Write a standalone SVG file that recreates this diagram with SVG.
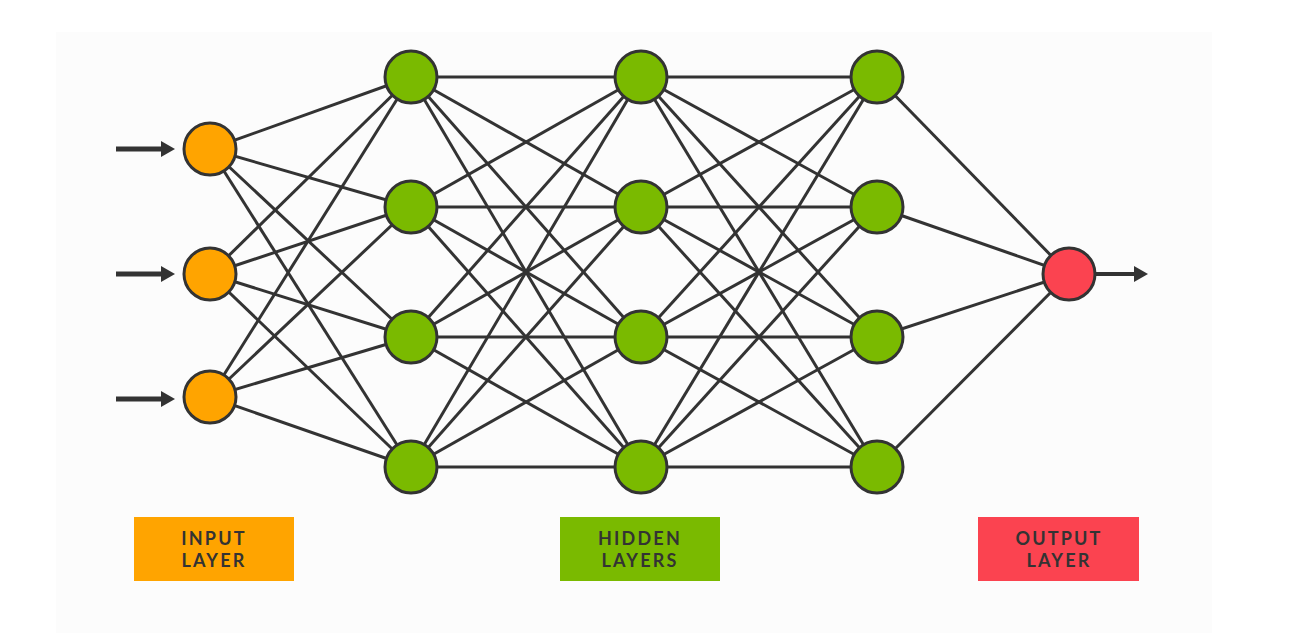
<svg xmlns="http://www.w3.org/2000/svg" width="1302" height="633" viewBox="0 0 1302 633">
<defs>
<style>
.e{stroke:#333;stroke-width:3;fill:none}
.n{stroke:#333;stroke-width:3}
.in{fill:#ffa400}
.hd{fill:#7aba00}
.out{fill:#fb4350}
.lbl{font-family:"Lato","Liberation Sans",sans-serif;font-weight:700;font-size:18px;fill:#333;letter-spacing:2.2px;text-anchor:middle}
.arr{stroke:#333;stroke-width:5}
</style>
<polygon id="head" points="0,-8 14,0 0,8" fill="#333"/>
</defs>
<rect width="1302" height="633" fill="#ffffff"/>
<rect x="56" y="32" width="1156" height="601" fill="#fcfcfc"/>
<g id="connectors">
<g class="e">
<line x1="210" y1="149" x2="411" y2="77"/><line x1="210" y1="149" x2="411" y2="207"/><line x1="210" y1="149" x2="411" y2="337"/><line x1="210" y1="149" x2="411" y2="467"/>
<line x1="210" y1="274" x2="411" y2="77"/><line x1="210" y1="274" x2="411" y2="207"/><line x1="210" y1="274" x2="411" y2="337"/><line x1="210" y1="274" x2="411" y2="467"/>
<line x1="210" y1="397" x2="411" y2="77"/><line x1="210" y1="397" x2="411" y2="207"/><line x1="210" y1="397" x2="411" y2="337"/><line x1="210" y1="397" x2="411" y2="467"/>
<line x1="411" y1="77" x2="641" y2="77"/><line x1="411" y1="77" x2="641" y2="207"/><line x1="411" y1="77" x2="641" y2="337"/><line x1="411" y1="77" x2="641" y2="467"/>
<line x1="411" y1="207" x2="641" y2="77"/><line x1="411" y1="207" x2="641" y2="207"/><line x1="411" y1="207" x2="641" y2="337"/><line x1="411" y1="207" x2="641" y2="467"/>
<line x1="411" y1="337" x2="641" y2="77"/><line x1="411" y1="337" x2="641" y2="207"/><line x1="411" y1="337" x2="641" y2="337"/><line x1="411" y1="337" x2="641" y2="467"/>
<line x1="411" y1="467" x2="641" y2="77"/><line x1="411" y1="467" x2="641" y2="207"/><line x1="411" y1="467" x2="641" y2="337"/><line x1="411" y1="467" x2="641" y2="467"/>
<line x1="641" y1="77" x2="877" y2="77"/><line x1="641" y1="77" x2="877" y2="207"/><line x1="641" y1="77" x2="877" y2="337"/><line x1="641" y1="77" x2="877" y2="467"/>
<line x1="641" y1="207" x2="877" y2="77"/><line x1="641" y1="207" x2="877" y2="207"/><line x1="641" y1="207" x2="877" y2="337"/><line x1="641" y1="207" x2="877" y2="467"/>
<line x1="641" y1="337" x2="877" y2="77"/><line x1="641" y1="337" x2="877" y2="207"/><line x1="641" y1="337" x2="877" y2="337"/><line x1="641" y1="337" x2="877" y2="467"/>
<line x1="641" y1="467" x2="877" y2="77"/><line x1="641" y1="467" x2="877" y2="207"/><line x1="641" y1="467" x2="877" y2="337"/><line x1="641" y1="467" x2="877" y2="467"/>
<line x1="877" y1="77" x2="1069" y2="274"/><line x1="877" y1="207" x2="1069" y2="274"/><line x1="877" y1="337" x2="1069" y2="274"/><line x1="877" y1="467" x2="1069" y2="274"/>
</g>
<line class="arr" x1="116" y1="149" x2="163" y2="149"/><use href="#head" x="161" y="149"/>
<line class="arr" x1="116" y1="274" x2="163" y2="274"/><use href="#head" x="161" y="274"/>
<line class="arr" x1="116" y1="399" x2="163" y2="399"/><use href="#head" x="161" y="399"/>
<line class="arr" x1="1096" y1="274" x2="1136" y2="274" style="stroke-width:4"/><use href="#head" x="1134" y="274"/>
</g>
<g id="input-layer">
<circle id="in1" class="n in" cx="210" cy="149" r="26"/>
<circle id="in2" class="n in" cx="210" cy="274" r="26"/>
<circle id="in3" class="n in" cx="210" cy="397" r="26"/>
</g>
<g id="hidden-layer-1">
<circle id="h1a" class="n hd" cx="411" cy="77" r="26"/>
<circle id="h1b" class="n hd" cx="411" cy="207" r="26"/>
<circle id="h1c" class="n hd" cx="411" cy="337" r="26"/>
<circle id="h1d" class="n hd" cx="411" cy="467" r="26"/>
</g>
<g id="hidden-layer-2">
<circle id="h2a" class="n hd" cx="641" cy="77" r="26"/>
<circle id="h2b" class="n hd" cx="641" cy="207" r="26"/>
<circle id="h2c" class="n hd" cx="641" cy="337" r="26"/>
<circle id="h2d" class="n hd" cx="641" cy="467" r="26"/>
</g>
<g id="hidden-layer-3">
<circle id="h3a" class="n hd" cx="877" cy="77" r="26"/>
<circle id="h3b" class="n hd" cx="877" cy="207" r="26"/>
<circle id="h3c" class="n hd" cx="877" cy="337" r="26"/>
<circle id="h3d" class="n hd" cx="877" cy="467" r="26"/>
</g>
<g id="output-layer">
<circle id="out1" class="n out" cx="1069" cy="274" r="26"/>
</g>
<g id="label-input">
<rect x="134" y="517" width="160" height="64" fill="#ffa400"/>
<text class="lbl" x="214" y="545">INPUT</text>
<text class="lbl" x="214" y="567">LAYER</text>
</g>
<g id="label-hidden">
<rect x="560" y="517" width="160" height="64" fill="#7aba00"/>
<text class="lbl" x="640" y="545">HIDDEN</text>
<text class="lbl" x="640" y="567">LAYERS</text>
</g>
<g id="label-output">
<rect x="978" y="517" width="161" height="64" fill="#fb4350"/>
<text class="lbl" x="1059" y="545">OUTPUT</text>
<text class="lbl" x="1059" y="567">LAYER</text>
</g>
</svg>
